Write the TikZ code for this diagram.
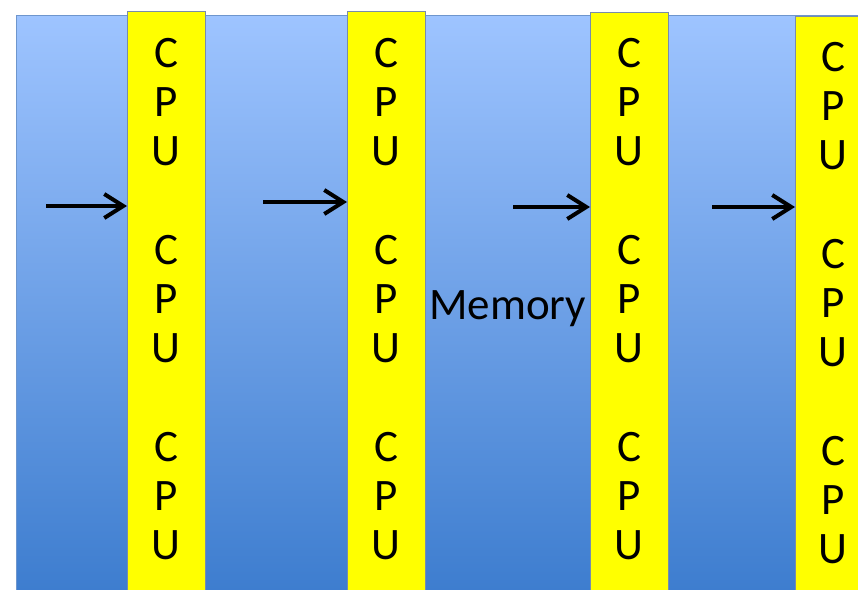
\documentclass[tikz,border=0pt]{standalone}
\usepackage{fontspec}
\setmainfont{Carlito}
\usetikzlibrary{arrows.meta}

\definecolor{memtop}{RGB}{158,196,255}
\definecolor{membot}{RGB}{60,124,206}
\definecolor{memline}{RGB}{110,150,205}
\definecolor{cpufill}{RGB}{255,255,0}
\definecolor{cpuline}{RGB}{120,140,170}

\tikzset{
	cpucol/.style = {draw=cpuline, line width=0.8pt, fill=cpufill, anchor=north west,
		minimum width=78, minimum height=600, inner sep=0pt},
	cpuletter/.style = {anchor=base, font=\fontsize{45}{54}\selectfont, inner sep=0pt},
	feed/.style = {line width=4pt, -{Straight Barb[length=19pt,width=24pt]}}
}

\begin{document}
\begin{tikzpicture}[x=1pt, y=-1pt]
	\useasboundingbox (0,0) rectangle (858,589);

	% shared memory behind the processors
	\shade[top color=memtop, bottom color=membot, draw=memline, line width=0.8pt]
		(16,15) rectangle (870,600);

	% processor columns
	\node[cpucol] (cpu1) at (127,11) {};
	\node[cpucol] (cpu2) at (347,11) {};
	\node[cpucol] (cpu3) at (590,12) {};
	\node[cpucol] (cpu4) at (795,16) {};

	% C P U letters, three groups per column
	\foreach \c/\x/\dy in {cpu1/166/0, cpu2/386/0, cpu3/629/0, cpu4/833/4}{
		\foreach \g in {0,1,2}{
			\foreach \l [count=\k from 0] in {C,P,U}{
				\node[cpuletter] (\c-\g-\k) at (\x,{67+\dy+197*\g+49*\k}) {\l};
			}
		}
	}

	\node[anchor=base west, font=\fontsize{45}{54}\selectfont, inner sep=0pt] (mem) at (429,319) {Memory};

	% requests coming into each column
	\coordinate (in1) at (46,206);
	\coordinate (in2) at (263,202);
	\coordinate (in3) at (513,207);
	\coordinate (in4) at (712,207);
	\draw[feed] (in1) -- (in1 -| cpu1.west);
	\draw[feed] (in2) -- (in2 -| cpu2.west);
	\draw[feed] (in3) -- (in3 -| cpu3.west);
	\draw[feed] (in4) -- (in4 -| cpu4.west);

\end{tikzpicture}
\end{document}
